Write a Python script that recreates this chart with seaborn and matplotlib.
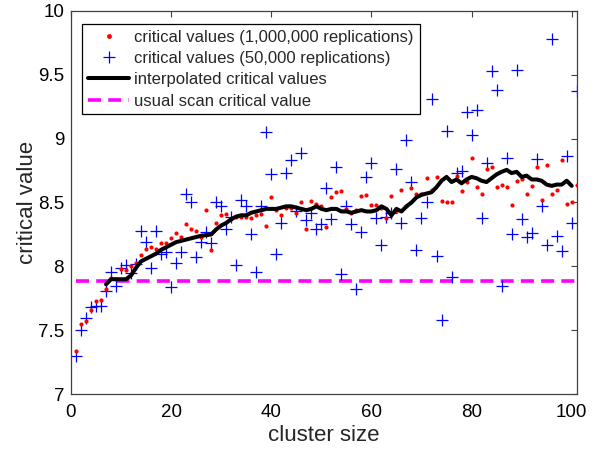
import numpy as np
import pandas as pd
import matplotlib
matplotlib.use("Agg")
import matplotlib.pyplot as plt
import seaborn as sns
from matplotlib.lines import Line2D

# ---------------- data ----------------
cluster_sizes = list(range(1, 102))

crit_1m = [7.34, 7.55, 7.57, 7.66, 7.73, 7.74, 7.82, 7.91, 7.90, 7.98,
           7.97, 8.00, 8.03, 8.09, 8.14, 8.15, 8.14, 8.18, 8.18, 8.22,
           8.26, 8.23, 8.33, 8.29, 8.28, 8.23, 8.44, 8.13, 8.34, 8.40,
           8.41, 8.37, 8.39, 8.39, 8.39, 8.38, 8.40, 8.41, 8.32, 8.54,
           8.44, 8.40, 8.46, 8.46, 8.42, 8.50, 8.29, 8.51, 8.49, 8.47,
           8.31, 8.54, 8.58, 8.59, 8.45, 8.42, 8.44, 8.55, 8.56, 8.48,
           8.48, 8.46, 8.38, 8.55, 8.43, 8.60, 8.47, 8.61, 8.57, 8.57,
           8.69, 8.60, 8.70, 8.51, 8.50, 8.50, 8.71, 8.59, 8.66, 8.85,
           8.62, 8.57, 8.76, 8.78, 8.62, 8.64, 8.62, 8.48, 8.67, 8.68,
           8.57, 8.63, 8.78, 8.52, 8.79, 8.57, 8.60, 8.83, 8.49, 8.50,
           8.64]

crit_50k = [7.30, 7.50, 7.60, 7.68, 7.69, 7.69, 7.81, 7.96, 7.85, 7.99,
            8.01, 7.95, 8.02, 8.28, 8.19, 7.99, 8.28, 8.10, 8.11, 7.84,
            8.03, 8.11, 8.57, 8.50, 8.07, 8.19, 8.27, 8.18, 8.50, 8.47,
            8.29, 8.39, 8.01, 8.52, 8.47, 8.25, 7.96, 8.47, 9.05, 8.72,
            8.10, 8.34, 8.73, 8.83, 8.43, 8.89, 8.36, 8.42, 8.29, 8.33,
            8.61, 8.37, 8.78, 7.94, 8.47, 8.33, 7.82, 8.27, 8.70, 8.81,
            8.38, 8.17, 8.39, 8.42, 8.76, 8.34, 8.99, 8.66, 8.13, 8.38,
            8.50, 9.31, 8.08, 7.58, 9.06, 7.92, 8.73, 8.75, 9.21, 9.03,
            9.22, 8.38, 8.81, 9.53, 9.38, 7.85, 8.85, 8.25, 9.54, 8.37,
            8.23, 8.26, 8.84, 8.47, 8.17, 9.78, 8.24, 8.12, 8.86, 8.34,
            9.37]

interp_x = list(range(7, 101))
interp_y = [7.86, 7.90, 7.90, 7.90, 7.90, 7.93, 7.99, 8.04, 8.06, 8.08,
            8.10, 8.13, 8.15, 8.17, 8.19, 8.20, 8.21, 8.22, 8.23, 8.24,
            8.245, 8.25, 8.29, 8.32, 8.34, 8.37, 8.39, 8.40, 8.40, 8.42,
            8.43, 8.44, 8.45, 8.45, 8.45, 8.46, 8.47, 8.47, 8.46, 8.45,
            8.44, 8.45, 8.47, 8.45, 8.44, 8.45, 8.45, 8.43, 8.43, 8.42,
            8.43, 8.44, 8.43, 8.43, 8.44, 8.47, 8.45, 8.40, 8.45, 8.43,
            8.47, 8.50, 8.54, 8.56, 8.57, 8.58, 8.62, 8.67, 8.70, 8.66,
            8.68, 8.65, 8.68, 8.70, 8.69, 8.67, 8.66, 8.69, 8.72, 8.74,
            8.755, 8.73, 8.74, 8.70, 8.71, 8.68, 8.68, 8.67, 8.64, 8.63,
            8.64, 8.64, 8.67, 8.63]

usual_value = 7.885

x_ticks = [0, 20, 40, 60, 80, 100]
y_ticks = [7, 7.5, 8, 8.5, 9, 9.5, 10]
y_tick_labels = ["7", "7.5", "8", "8.5", "9", "9.5", "10"]

labels = ["critical values (1,000,000 replications)",
          "critical values (50,000 replications)",
          "interpolated critical values",
          "usual scan critical value"]

# ---------------- plot ----------------
sns.set_style("white")
plt.rcParams["font.family"] = ["Liberation Sans", "DejaVu Sans"]

fig = plt.figure(figsize=(6.0, 4.51), dpi=100)
ax = fig.add_axes([0.1183, 0.1257, 0.8429, 0.8506])

df_pts = pd.DataFrame({"size": cluster_sizes, "c1m": crit_1m, "c50k": crit_50k})
df_line = pd.DataFrame({"size": interp_x, "val": interp_y})
df_usual = pd.DataFrame({"size": [min(cluster_sizes), max(cluster_sizes)],
                         "val": [usual_value, usual_value]})

sns.lineplot(data=df_usual, x="size", y="val", ax=ax, color="#ff00ff",
             lw=2.6, linestyle=(0, (3.6, 2.0)), zorder=1)
sns.scatterplot(data=df_pts, x="size", y="c50k", ax=ax, marker="+",
                color="#0000ff", s=80, linewidth=0.9, zorder=2)
sns.scatterplot(data=df_pts, x="size", y="c1m", ax=ax, marker="o",
                color="#ff0000", s=9, linewidth=0, zorder=3)
sns.lineplot(data=df_line, x="size", y="val", ax=ax, color="black",
             lw=2.9, zorder=4)

ax.set_xlim(0, 101)
ax.set_ylim(7, 10)
ax.set_xticks(x_ticks)
ax.set_xticklabels([str(t) for t in x_ticks])
ax.set_yticks(y_ticks)
ax.set_yticklabels(y_tick_labels)
ax.tick_params(axis="both", which="both", direction="in", length=4,
               width=0.8, color="#404040", labelsize=13.5, pad=5,
               top=True, right=True, labelcolor="black")
ax.tick_params(axis="x", pad=7)
for sp in ax.spines.values():
    sp.set_visible(True)
    sp.set_color("#404040")
    sp.set_linewidth(0.9)

ax.set_xlabel("cluster size", fontsize=16, labelpad=3)
ax.set_ylabel("critical value", fontsize=16, labelpad=0)

handles = [
    Line2D([], [], marker="o", color="#ff0000", linestyle="none", markersize=2.5),
    Line2D([], [], marker="+", color="#0000ff", linestyle="none", markersize=9,
           markeredgewidth=0.9),
    Line2D([], [], color="black", lw=2.9),
    Line2D([], [], color="#ff00ff", lw=2.6, linestyle=(0, (3.6, 2.0))),
]
leg = ax.legend(handles, labels, loc="upper left",
                bbox_to_anchor=(0.0217, 0.966), borderaxespad=0,
                fontsize=12, frameon=True, fancybox=False,
                handlelength=2.5, handletextpad=0.3, labelspacing=0.38,
                borderpad=0.35)
leg.get_frame().set_edgecolor("black")
leg.get_frame().set_linewidth(0.9)
leg.get_frame().set_alpha(1)

fig.savefig("out.png", dpi=100)
